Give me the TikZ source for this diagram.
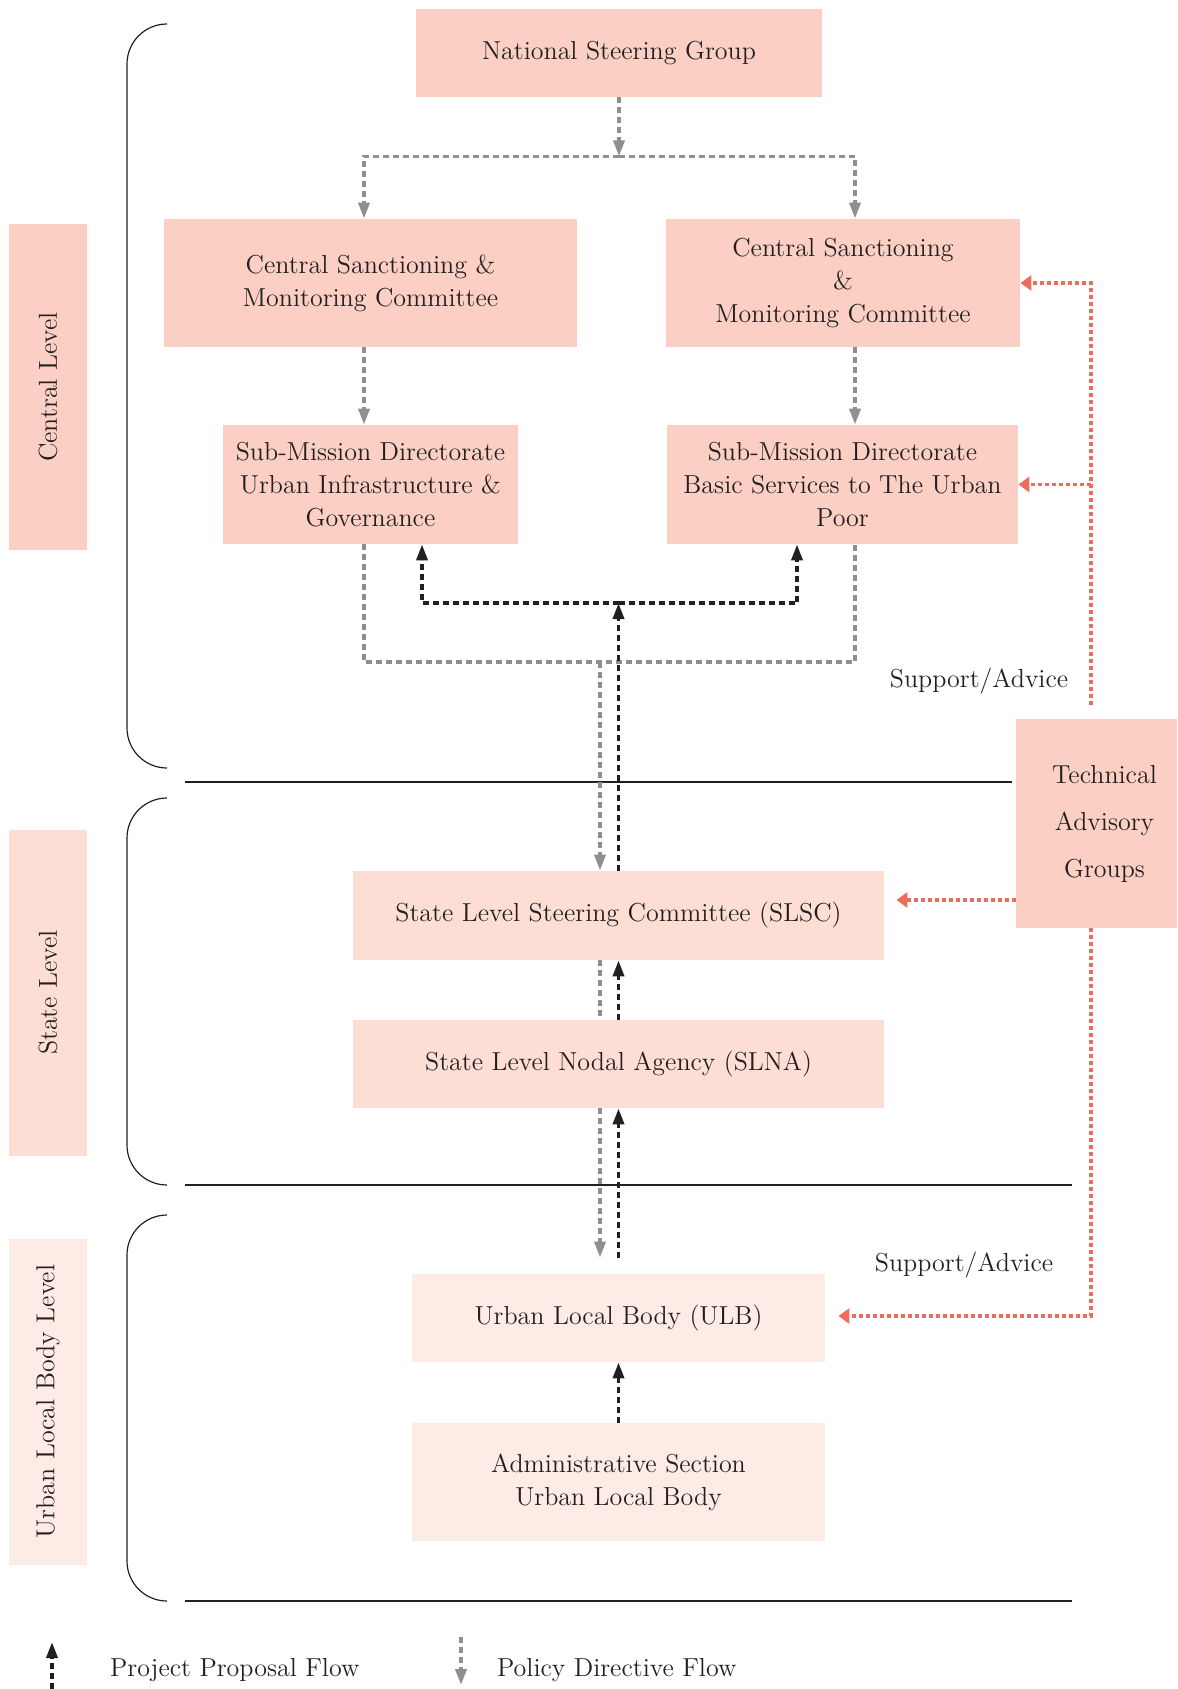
\documentclass[tikz,border=0pt]{standalone}
\usepackage{tikz}
\usetikzlibrary{arrows.meta,positioning}
\definecolor{central}{HTML}{FBCFC3}
\definecolor{state}{HTML}{FCDED4}
\definecolor{local}{HTML}{FDEBE5}
\definecolor{advred}{HTML}{EE6B5D}
\definecolor{policygrey}{HTML}{8F8F92}
\definecolor{ink}{HTML}{231F20}

\begin{document}
\begin{tikzpicture}[x=0.5pt,y=-0.5pt,
    every node/.style={font=\fontsize{13}{16.5}\selectfont, text=ink},
    box/.style={fill=central, align=center, inner sep=0pt},
    levelbar/.style={box, minimum width=163pt, minimum height=39pt, rotate=90},
    policy/.style={draw=policygrey, line width=1.8pt, dash pattern=on 3pt off 2pt,
        -{Triangle[length=8pt,width=5.5pt]}},
    policyline/.style={policy, -},
    proposal/.style={draw=ink, line width=1.8pt, dash pattern=on 3pt off 2pt,
        -{Triangle[length=8pt,width=5.5pt]}},
    advice/.style={draw=advred, line width=1.9pt, dash pattern=on 2pt off 1.5pt,
        -{Triangle[length=5.5pt,width=7.5pt]}},
    bracket/.style={draw=ink, line width=0.6pt, rounded corners=20pt},
    rule/.style={draw=ink, line width=0.75pt}]
\useasboundingbox (0,0) rectangle (1177,1689);

% level labels
\node[levelbar] (clv) at (48,387) {Central Level};
\node[levelbar, fill=state] (slv) at (48,992.5) {State Level};
\node[levelbar, fill=local] (ulv) at (48,1401.5) {Urban Local Body Level};

\draw[bracket] (167,24) -- (127,24) -- (127,768) -- (167,768);
\draw[bracket] (167,798) -- (127,798) -- (127,1185) -- (167,1185);
\draw[bracket] (167,1215) -- (127,1215) -- (127,1601) -- (167,1601);
\draw[rule] (185,782) -- (1012,782);
\draw[rule] (185,1185) -- (1072,1185);
\draw[rule] (185,1601) -- (1072,1601);

% central level
\node[box, minimum width=203pt, minimum height=44pt] (nsg) at (619,53) {National Steering Group};
\node[box, minimum width=206.5pt, minimum height=64pt] (csl) at (370.5,283)
    {Central Sanctioning \&\\Monitoring Committee};
\node[box, minimum width=177pt, minimum height=64pt] (csr) at (843,283)
    {Central Sanctioning\\\&\\Monitoring Committee};
\node[box, minimum width=147.5pt, minimum height=59.5pt] (sml) at (370.5,484.5)
    {Sub-Mission Directorate\\Urban Infrastructure \&\\Governance};
\node[box, minimum width=175.5pt, minimum height=59.5pt] (smr) at (842.5,484.5)
    {Sub-Mission Directorate\\Basic Services to The Urban\\Poor};
\node[box, minimum width=80.5pt, minimum height=104.5pt, inner xsep=0pt,
    font=\fontsize{13}{23.5}\selectfont] (tag) at (1096.5,823.5)
    {\hspace*{8pt}Technical\\\hspace*{8pt}Advisory\\\hspace*{8pt}Groups};

% state level
\node[box, fill=state, minimum width=265.5pt, minimum height=44.5pt] (slsc) at (618.5,915.5)
    {State Level Steering Committee (SLSC)};
\node[box, fill=state, minimum width=265.5pt, minimum height=44pt] (slna) at (618.5,1064)
    {State Level Nodal Agency (SLNA)};

% urban local body level
\node[box, fill=local, minimum width=206.5pt, minimum height=44pt] (ulb) at (618.5,1318)
    {Urban Local Body (ULB)};
\node[box, fill=local, minimum width=206.5pt, minimum height=59pt] (adm) at (618.5,1482)
    {Administrative Section\\Urban Local Body};

% policy directive flow
\coordinate (ptop) at ([yshift=-29.5pt]nsg.south);
\coordinate (pjoin) at (600,662);
\draw[policy] (nsg.south) -- (ptop);
\draw[policy] (ptop) -| ([xshift=-3.25pt]csl.north);
\draw[policy] (ptop) -| ([xshift=6pt]csr.north);
\draw[policy] ([xshift=-3.25pt]csl.south) -- ([xshift=-3.25pt]sml.north);
\draw[policy] ([xshift=6pt]csr.south) -- ([xshift=6.25pt]smr.north);
\draw[policyline] ([xshift=-3.25pt]sml.south) |- (pjoin) -| ([xshift=6.25pt]smr.south);
\draw[policy] (pjoin) -- (pjoin |- slsc.north);
\draw[policyline] (pjoin |- slsc.south) -- (pjoin |- slna.north);
\draw[policy, shorten >=8pt] (pjoin |- slna.south) -- (pjoin |- ulb.north);

% project proposal flow
\coordinate (fork) at (618.5,603);
\draw[proposal] (slsc.north) -- (fork);
\draw[proposal] (fork) -| ([xshift=25.75pt]sml.south);
\draw[proposal] (fork) -| ([xshift=-22.75pt]smr.south);
\draw[proposal] (slna.north) -- (slsc.south);
\draw[proposal, shorten <=8pt] (ulb.north) -- (slna.south);
\draw[proposal] (adm.north) -- (ulb.south);

% support / advice
\coordinate (adv) at ([xshift=-2.75pt,yshift=7pt]tag.north);
\draw[advice] (adv) |- (csr.east);
\draw[advice] (adv |- smr.east) -- (smr.east);
\draw[advice, shorten >=6pt] ([yshift=-38.25pt]tag.west) -- ([yshift=-38.25pt]tag.west -| slsc.east);
\draw[advice, shorten >=6.5pt] ([xshift=-2.75pt]tag.south) |- ([yshift=1pt]ulb.east);
\node (sa1) at (979,681) {Support/Advice};
\node (sa2) at (964,1265) {Support/Advice};

% legend
\node[anchor=west] (ppf) at (103,1670) {Project Proposal Flow};
\node[anchor=west] (pdf) at (490,1670) {Policy Directive Flow};
\coordinate (lg1) at (52,1689);
\coordinate (lg2) at (461,1637);
\draw[proposal] (lg1) -- ++(0,-47);
\draw[policy] (lg2) -- ++(0,48);
\end{tikzpicture}
\end{document}
